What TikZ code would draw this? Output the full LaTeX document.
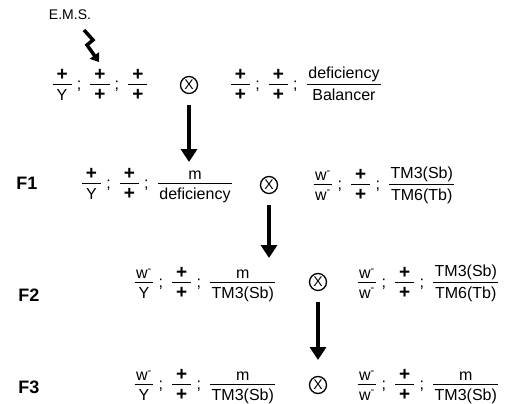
\documentclass[tikz,border=0pt]{standalone}
\usepackage{amsmath}
\usepackage{fontspec}
\setmainfont{Liberation Sans}
\usetikzlibrary{arrows.meta}

\newcommand{\gfr}[2]{\genfrac{}{}{1.6pt}{1}{\mbox{\hspace{1.5pt}#1\hspace{1.5pt}\rule[-2pt]{0pt}{2pt}}}{\mbox{\hspace{1.5pt}\rule{0pt}{13pt}#2\hspace{1.5pt}}}}
\newcommand{\pl}{\hspace{2.5pt}{\fontsize{19}{19}\selectfont\bfseries +}\hspace{2.5pt}}
\newcommand{\wm}{w\textsuperscript{-}}
\newcommand{\sep}{\hspace{4pt}\mbox{;}\hspace{8pt}}

\tikzset{
  geno/.style={font=\fontsize{16}{18}\selectfont, inner sep=0pt, anchor=base},
  gen/.style={font=\fontsize{18}{20}\selectfont\bfseries},
  cross/.style={circle, draw, line width=1.3pt, inner sep=0pt, minimum size=17pt, font=\fontsize{14}{14}\selectfont},
  bigarrow/.style={line width=3.8pt, -{Triangle[length=13pt,width=16pt]}, shorten <=11pt},
  bolt/.style={line width=3.5pt, -{Triangle[length=8pt,width=11pt]}}
}

\begin{document}
\begin{tikzpicture}[x=1pt,y=-1pt]
\useasboundingbox (0,0) rectangle (512,404);

% parents
\node (ems) at (70,15) {\fontsize{14}{14}\selectfont E.M.S.};
\draw[bolt] (84,30) -- (93,40) -- (87,45) -- (99,62);
\node[geno] (pL) at (100,89) {$\gfr{\pl}{Y}\sep\gfr{\pl}{\pl}\sep\gfr{\pl}{\pl}$};
\node[cross] (pX) at (189,85) {X};
\node[geno] (pR) at (306,89) {$\gfr{\pl}{\pl}\sep\gfr{\pl}{\pl}\sep\gfr{deficiency}{Balancer}$};

% F1
\node[gen] (f1) at (27,183) {F1};
\node[geno] (f1L) at (157,188) {$\gfr{\pl}{Y}\sep\gfr{\pl}{\pl}\sep\gfr{m}{deficiency}$};
\node[cross] (f1X) at (269,185) {X};
\node[geno] (f1R) at (384,189) {$\gfr{\wm}{\wm}\sep\gfr{\pl}{\pl}\sep\gfr{TM3(Sb)}{TM6(Tb)}$};

% F2
\node[gen] (f2) at (29,295) {F2};
\node[geno] (f2L) at (205,287) {$\gfr{\wm}{Y}\sep\gfr{\pl}{\pl}\sep\gfr{m}{TM3(Sb)}$};
\node[cross] (f2X) at (318,282) {X};
\node[geno] (f2R) at (428,287) {$\gfr{\wm}{\wm}\sep\gfr{\pl}{\pl}\sep\gfr{TM3(Sb)}{TM6(Tb)}$};

% F3
\node[gen] (f3) at (29,387) {F3};
\node[geno] (f3L) at (205,389) {$\gfr{\wm}{Y}\sep\gfr{\pl}{\pl}\sep\gfr{m}{TM3(Sb)}$};
\node[cross] (f3X) at (318,385) {X};
\node[geno] (f3R) at (428,389) {$\gfr{\wm}{\wm}\sep\gfr{\pl}{\pl}\sep\gfr{m}{TM3(Sb)}$};

\coordinate (a1) at (189,162);
\coordinate (a2) at (269,258);
\coordinate (a3) at (318,360);
\draw[bigarrow] (pX.south) -- (a1);
\draw[bigarrow] (f1X.south) -- (a2);
\draw[bigarrow] (f2X.south) -- (a3);
%\draw (f3X) -- (f3R);
\end{tikzpicture}
\end{document}
